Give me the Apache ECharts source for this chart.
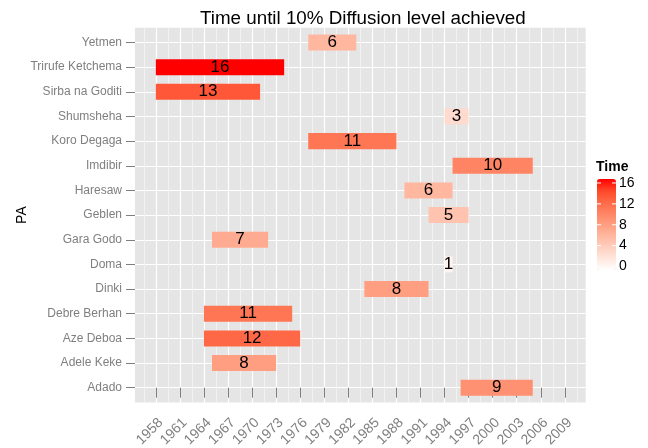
<!DOCTYPE html>
<html>
<head>
<meta charset="UTF-8">
<title>Time until 10% Diffusion level achieved</title>
<script src="https://cdn.jsdelivr.net/npm/echarts@6/dist/echarts.min.js"></script>
</head>
<body style="margin:0">
<div id="charts" style="width:648px;height:448px"></div>
<script type="text/javascript">
// PA names, bottom to top as on the chart
var paNames=['Adado','Adele Keke','Aze Deboa','Debre Berhan','Dinki','Doma','Gara Godo','Geblen','Haresaw','Imdibir','Koro Degaga','Shumsheha','Sirba na Goditi','Trirufe Ketchema','Yetmen'];
// year the PA started, and years until 10% diffusion
var startYear=[1996,1965,1964,1964,1984,1994,1965,1992,1989,1995,1977,1994,1958,1958,1977];
var timeYears=[9,8,12,11,8,1,7,5,6,10,11,3,13,16,6];
var yearTicks=[1958,1961,1964,1967,1970,1973,1976,1979,1982,1985,1988,1991,1994,1997,2000,2003,2006,2009];
var minorTicks=[1956.5,1959.5,1962.5,1965.5,1968.5,1971.5,1974.5,1977.5,1980.5,1983.5,1986.5,1989.5,1992.5,1995.5,1998.5,2001.5,2004.5,2007.5,2010.5];
var legendTicks=[0,4,8,12,16];
// white -> red, like ggplot's gradient (0,2,4,...,16)
var fillColors=['#ffffff','#ffe7de','#ffcfbf','#ffb7a0','#ff9e81','#ff8464','#ff6846','#ff4628','#ff0000'];

var font='Liberation Sans';
var grey='#7f7f7f';

var rows=[];
for(var i=0;i<paNames.length;i++){
	rows.push([startYear[i],i,startYear[i]+timeYears[i],timeYears[i]]);
}
var yIdx=[];
for(var k=0;k<paNames.length;k++){ yIdx.push(k); }

function renderBar(params,api){
	var y=api.value(1);
	var p0=api.coord([api.value(0),y]);
	var p1=api.coord([api.value(2),y]);
	var h=api.size([0,1])[1]*0.65;
	return {
		type:'rect',
		shape:{x:p0[0],y:p0[1]-h/2,width:p1[0]-p0[0],height:h},
		style:{fill:api.visual('color')},
		textContent:{style:{text:String(api.value(3)),fontSize:17,fontFamily:font,fill:'#000'}},
		textConfig:{position:'inside'}
	};
}

// colour bar legend geometry
var barTop=179, barBottom=270, zeroY=266.5, pxPerUnit=5.22, barLeft=597, barW=19;
var legendEls=[
	{type:'text',left:596,top:160,style:{text:'Time',fontSize:14,fontWeight:'bold',fontFamily:font,fill:'#000'}}
];
legendTicks.forEach(function(v){
	var y=zeroY-v*pxPerUnit;
	legendEls.push({type:'text',x:619,y:y,style:{text:String(v),fontSize:14,fontFamily:font,fill:'#000',verticalAlign:'middle',align:'left'}});
	if(v>0){
		legendEls.push({type:'line',shape:{x1:barLeft,y1:y,x2:barLeft+4,y2:y},style:{stroke:'#fff',lineWidth:1},z:100});
		legendEls.push({type:'line',shape:{x1:barLeft+barW-4,y1:y,x2:barLeft+barW,y2:y},style:{stroke:'#fff',lineWidth:1},z:100});
	}
});

var mychart=echarts.init(document.getElementById('charts'));
var option={
	animation:false,
	textStyle:{fontFamily:font},
	title:{
		text:'Time until 10% Diffusion level achieved',
		left:200,top:9,padding:0,
		textStyle:{fontSize:18.8,fontWeight:'normal',color:'#000',fontFamily:font}
	},
	grid:{left:135,right:62.3,top:27.7,bottom:45.5,show:true,backgroundColor:'#e5e5e5',borderWidth:0,outerBoundsMode:'none'},
	xAxis:[{
		type:'value',min:1955.4,max:2011.6,
		axisLine:{show:false},
		axisTick:{show:true,length:10,customValues:yearTicks,lineStyle:{color:grey,width:1}},
		axisLabel:{customValues:yearTicks,rotate:45,align:'right',verticalAlign:'top',margin:13,fontSize:14,color:grey,fontFamily:font,
			formatter:function(v){return String(v);}},
		splitLine:{show:true,lineStyle:{color:'#ffffff',width:1.2}}
	},{
		type:'value',min:1955.4,max:2011.6,position:'bottom',
		axisLine:{show:false},
		axisTick:{show:false,customValues:minorTicks},
		axisLabel:{show:false},
		splitLine:{show:true,lineStyle:{color:'#f2f2f2',width:1}}
	}],
	yAxis:{
		type:'value',min:-0.6,max:14.6,
		name:'PA',nameLocation:'middle',nameRotate:90,nameGap:106,nameMoveOverlap:false,
		nameTextStyle:{fontSize:14,color:'#000',fontFamily:font},
		axisLine:{show:false},
		axisTick:{show:true,length:9,customValues:yIdx,lineStyle:{color:grey,width:1}},
		axisLabel:{customValues:yIdx,margin:13,fontSize:12,color:grey,fontFamily:font,formatter:function(v){return paNames[v];}},
		splitLine:{show:true,lineStyle:{color:'#ffffff',width:1.2}}
	},
	visualMap:{
		type:'continuous',min:0,max:16,dimension:3,seriesIndex:0,
		inRange:{color:fillColors},
		calculable:false,hoverLink:false,
		left:barLeft,top:barTop,padding:0,
		itemWidth:barW,itemHeight:barBottom-barTop,
		text:null,showLabel:false
	},
	graphic:legendEls,
	series:[{
		type:'custom',
		xAxisIndex:0,yAxisIndex:0,
		renderItem:renderBar,
		encode:{x:[0,2],y:1},
		data:rows
	}]
};
mychart.setOption(option);
</script>
</body>
</html>
